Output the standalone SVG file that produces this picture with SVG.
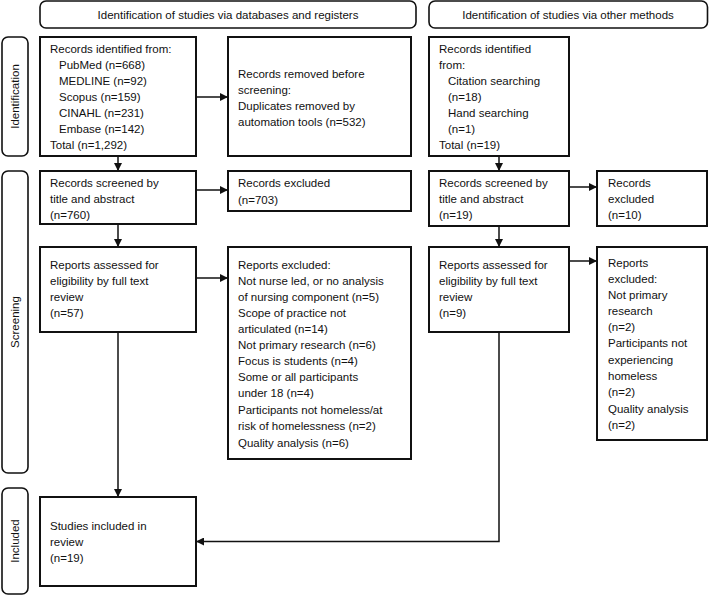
<svg xmlns="http://www.w3.org/2000/svg" width="709" height="596" viewBox="0 0 709 596">
<defs>
<marker id="ah" markerWidth="8" markerHeight="8" refX="8" refY="4" orient="auto" markerUnits="userSpaceOnUse">
<path d="M0,0 L8,4 L0,8 Z" fill="#111"/>
</marker>
<style>
text{font-family:"Liberation Sans",Arial,Helvetica,sans-serif;font-size:11.5px;fill:#111}
.box{fill:#fff;stroke:#111;stroke-width:2}
.hdr{fill:#fff;stroke:#111;stroke-width:1.6}
.c{text-anchor:middle}
.ln{fill:none;stroke:#111;stroke-width:1.5;marker-end:url(#ah)}
</style>
</defs>
<rect width="709" height="596" fill="#fff"/>
<g id="header-db"><rect class="hdr" x="40" y="1" width="376" height="27" rx="6"/><text class="c" x="228" y="19">Identification of studies via databases and registers</text></g>
<g id="header-other"><rect class="hdr" x="429" y="1" width="278.5" height="27" rx="6"/><text class="c" x="568" y="19">Identification of studies via other methods</text></g>
<g id="phase-identification"><rect class="hdr" x="2" y="37" width="26" height="119" rx="6"/><text class="c" transform="translate(19,96.5) rotate(-90)">Identification</text></g>
<g id="phase-screening"><rect class="hdr" x="2" y="171" width="26" height="302" rx="6"/><text class="c" transform="translate(19,322) rotate(-90)">Screening</text></g>
<g id="phase-included"><rect class="hdr" x="2" y="488" width="26" height="106" rx="6"/><text class="c" transform="translate(19,541) rotate(-90)">Included</text></g>

<g id="db-identified"><rect class="box" x="40" y="37" width="156" height="119"/>
<text x="50" y="53">Records identified from:</text>
<text x="59" y="69">PubMed (n=668)</text>
<text x="59" y="85">MEDLINE (n=92)</text>
<text x="59" y="101">Scopus (n=159)</text>
<text x="59" y="117">CINAHL (n=231)</text>
<text x="59" y="133">Embase (n=142)</text>
<text x="50" y="149">Total (n=1,292)</text></g>
<g id="db-removed"><rect class="box" x="228" y="37" width="183" height="119"/>
<text x="238" y="78">Records removed before</text>
<text x="238" y="94">screening:</text>
<text x="238" y="110">Duplicates removed by</text>
<text x="238" y="126">automation tools (n=532)</text></g>
<g id="db-screened"><rect class="box" x="40" y="171" width="156" height="53"/>
<text x="50" y="187">Records screened by</text>
<text x="50" y="203">title and abstract</text>
<text x="50" y="219">(n=760)</text></g>
<g id="db-excluded"><rect class="box" x="228" y="171" width="183" height="40"/>
<text x="238" y="187">Records excluded</text>
<text x="238" y="204">(n=703)</text></g>
<g id="db-assessed"><rect class="box" x="40" y="247" width="156" height="85"/>
<text x="50" y="269">Reports assessed for</text>
<text x="50" y="285">eligibility by full text</text>
<text x="50" y="301">review</text>
<text x="50" y="317">(n=57)</text></g>
<g id="db-reports-excluded"><rect class="box" x="228" y="247" width="183" height="212"/>
<text x="238" y="269">Reports excluded:</text>
<text x="238" y="285">Not nurse led, or no analysis</text>
<text x="238" y="301">of nursing component (n=5)</text>
<text x="238" y="317">Scope of practice not</text>
<text x="238" y="333">articulated (n=14)</text>
<text x="238" y="349">Not primary research (n=6)</text>
<text x="238" y="365">Focus is students (n=4)</text>
<text x="238" y="381">Some or all participants</text>
<text x="238" y="397">under 18 (n=4)</text>
<text x="238" y="414">Participants not homeless/at</text>
<text x="238" y="430">risk of homelessness (n=2)</text>
<text x="238" y="447">Quality analysis (n=6)</text></g>
<g id="included"><rect class="box" x="40" y="497" width="156" height="89"/>
<text x="50" y="530">Studies included in</text>
<text x="50" y="546">review</text>
<text x="50" y="562">(n=19)</text></g>

<g id="ot-identified"><rect class="box" x="429" y="37" width="140" height="119"/>
<text x="439" y="53">Records identified</text>
<text x="439" y="69">from:</text>
<text x="448" y="85">Citation searching</text>
<text x="448" y="101">(n=18)</text>
<text x="448" y="117">Hand searching</text>
<text x="448" y="133">(n=1)</text>
<text x="439" y="149">Total (n=19)</text></g>
<g id="ot-screened"><rect class="box" x="429" y="171" width="140" height="55"/>
<text x="439" y="187">Records screened by</text>
<text x="439" y="203">title and abstract</text>
<text x="439" y="219">(n=19)</text></g>
<g id="ot-excluded"><rect class="box" x="597" y="171" width="110" height="55"/>
<text x="608" y="187">Records</text>
<text x="608" y="203">excluded</text>
<text x="608" y="219">(n=10)</text></g>
<g id="ot-assessed"><rect class="box" x="429" y="247" width="140" height="85"/>
<text x="439" y="269">Reports assessed for</text>
<text x="439" y="285">eligibility by full text</text>
<text x="439" y="301">review</text>
<text x="439" y="317">(n=9)</text></g>
<g id="ot-reports-excluded"><rect class="box" x="597" y="247" width="110" height="193"/>
<text x="608" y="267">Reports</text>
<text x="608" y="283">excluded:</text>
<text x="608" y="299">Not primary</text>
<text x="608" y="315">research</text>
<text x="608" y="331">(n=2)</text>
<text x="608" y="347">Participants not</text>
<text x="608" y="364">experiencing</text>
<text x="608" y="380">homeless</text>
<text x="608" y="396">(n=2)</text>
<text x="608" y="413">Quality analysis</text>
<text x="608" y="429">(n=2)</text></g>

<g id="connectors">
<line class="ln" x1="196" y1="97" x2="228" y2="97"/>
<line class="ln" x1="118" y1="156" x2="118" y2="171"/>
<line class="ln" x1="196" y1="190" x2="228" y2="190"/>
<line class="ln" x1="118" y1="224" x2="118" y2="247"/>
<line class="ln" x1="196" y1="278" x2="228" y2="278"/>
<line class="ln" x1="118" y1="332" x2="118" y2="497"/>
<line class="ln" x1="499" y1="156" x2="499" y2="171"/>
<line class="ln" x1="569" y1="187" x2="597" y2="187"/>
<line class="ln" x1="499" y1="226" x2="499" y2="247"/>
<line class="ln" x1="569" y1="261" x2="597" y2="261"/>
<path class="ln" d="M499,332 V541.5 H196"/>
</g>
</svg>
